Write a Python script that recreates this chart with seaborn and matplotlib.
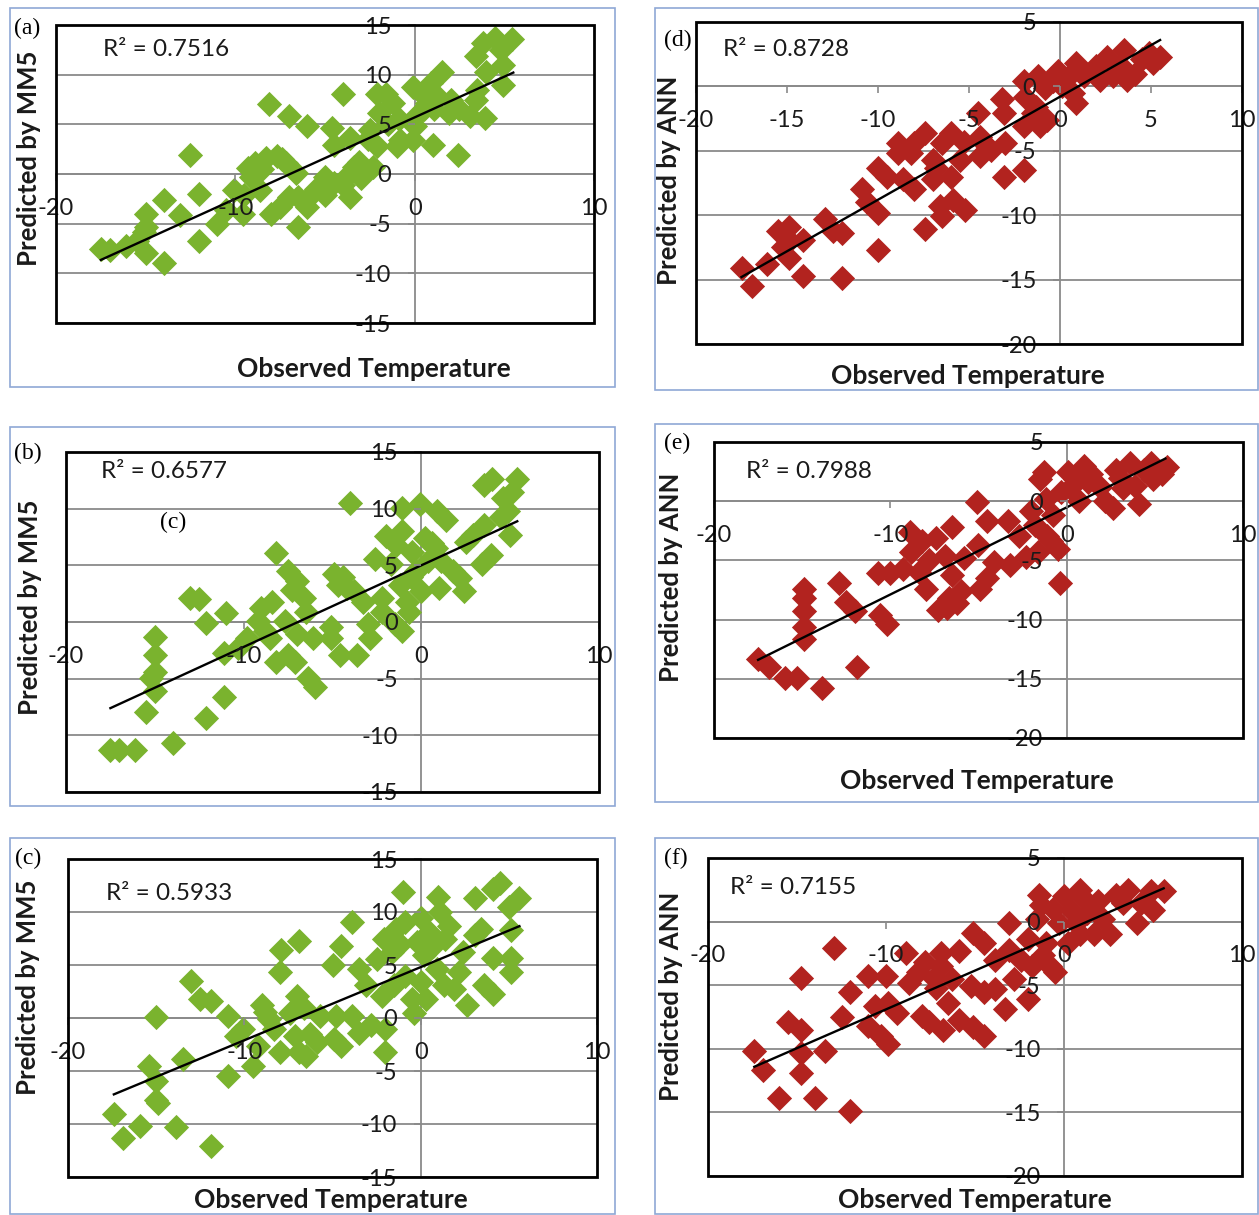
import numpy as np
import pandas as pd
import matplotlib
matplotlib.use("Agg")
import matplotlib.pyplot as plt
import seaborn as sns
from matplotlib.patches import Rectangle

# ---------------- data ----------------
obs_a = [-17.5,-17.0,-16.1,-15.5,-15.1,-15.0,-15.0,-15.0,-14.0,-14.0,
         -13.1,-12.5,-12.0,-12.0,-11.0,-10.5,-10.1,-9.6,-9.5,-9.1,
         -8.9,-8.6,-8.3,-8.1,-8.0,-7.7,-7.5,-7.2,-7.0,-7.0,
         -6.6,-6.5,-6.5,-6.0,-6.0,-6.0,-5.0,-5.0,-4.6,-4.5,
         -4.5,-4.0,-4.0,-3.6,-3.6,-3.4,-3.1,-3.0,-2.5,-2.3,
         -2.1,-2.1,-2.0,-1.6,-1.2,-1.0,-0.9,-0.8,-0.1,-0.1,
         0.0,0.1,0.4,0.7,0.9,1.0,1.1,1.3,1.5,1.9,
         2.0,2.4,2.5,3.1,3.4,3.4,3.5,3.8,3.9,4.0,
         4.5,4.8,4.9,4.9,5.4,-8.5,-7.4,-1.5,0.5,-2.6,
         -9.3,-5.5,-3.8]
pred_a = [-7.6,-7.7,-7.2,-6.7,-5.8,-5.3,-4.0,-8.0,-2.6,-9.0,
          -4.1,1.9,-2.0,-6.7,-5.0,-3.6,-1.6,-4.0,-2.1,-0.3,
          1.1,-1.6,1.6,7.0,-4.0,1.8,-3.3,1.1,5.8,-2.3,
          0.1,-5.3,-2.3,4.8,-3.3,-2.5,-0.3,-2.1,4.6,2.9,
          -0.9,8.1,-1.1,3.6,-2.3,0.7,1.2,-0.4,4.4,0.7,
          2.8,8.1,6.1,8.1,7.1,2.8,5.5,3.4,8.8,3.4,
          4.8,5.8,8.1,7.1,9.2,2.9,6.5,7.8,10.3,6.1,
          7.5,1.9,6.5,5.8,11.9,7.5,8.5,13.2,5.6,10.3,
          13.7,12.5,9.0,11.0,13.6,0.5,1.5,5.0,6.5,3.5,
          0.6,-1.5,-0.2]

obs_b = [-17.5,-17.0,-16.1,-15.5,-15.0,-15.0,-15.0,-15.0,-15.2,-14.0,
         -13.0,-12.5,-12.1,-12.1,-11.1,-11.1,-11.0,-10.3,-9.8,-9.2,
         -9.0,-8.8,-8.5,-8.4,-8.2,-8.2,-7.7,-7.5,-7.5,-7.1,
         -7.0,-7.0,-6.6,-6.5,-6.4,-6.1,-6.0,-5.1,-5.1,-4.9,
         -4.7,-4.6,-4.2,-4.0,-3.8,-3.6,-3.3,-3.0,-2.9,-2.6,
         -2.2,-2.2,-2.0,-1.7,-1.5,-1.2,-1.1,-1.1,-1.1,-0.8,
         -0.7,-0.5,-0.3,-0.1,0.0,0.2,0.4,0.8,0.9,1.0,
         1.1,1.4,1.8,2.2,2.4,2.5,2.9,3.4,3.5,3.5,
         4.0,3.9,4.5,4.6,5.0,5.1,5.4,4.9,-1.4,-0.6,
         0.6,-4.4,-7.3]
pred_b = [-11.3,-11.3,-11.3,-7.9,-1.3,-2.9,-4.4,-6.1,-4.9,-10.7,
          2.1,2.0,-0.1,-8.5,-6.6,-2.7,0.8,-2.3,-1.4,0.1,
          1.2,-0.8,-1.4,1.8,6.1,-3.5,0.1,4.5,-2.9,-3.5,
          3.6,-1.1,2.1,0.9,-4.9,-1.4,-5.7,-0.4,-1.4,4.2,
          3.3,-2.9,3.0,10.5,2.7,-2.9,1.8,-0.2,-1.4,5.6,
          2.1,0.9,7.6,5.1,-0.2,3.3,10.1,8.0,-0.8,1.8,
          0.9,6.2,4.5,10.4,2.7,7.4,5.4,6.5,9.8,3.0,
          5.4,9.0,4.5,3.9,2.7,7.1,7.7,5.1,8.6,12.1,
          12.6,5.9,9.3,10.9,7.7,11.5,12.6,9.8,6.8,4.0,
          7.0,4.0,2.8]

obs_c = [-17.4,-16.9,-15.9,-15.4,-15.0,-15.0,-15.0,-14.9,-13.9,-13.5,
         -13.0,-12.5,-11.9,-11.9,-10.9,-10.9,-10.5,-10.1,-9.5,-9.2,
         -9.0,-8.6,-8.3,-8.0,-8.0,-7.9,-7.4,-7.1,-7.0,-6.9,
         -6.9,-6.6,-6.5,-5.9,-5.7,-5.0,-4.9,-4.8,-4.5,-4.5,
         -3.9,-3.9,-3.5,-3.5,-3.1,-2.8,-2.5,-2.2,-2.1,-2.0,
         -2.0,-1.6,-1.5,-1.4,-1.0,-0.9,-0.9,-0.5,-0.4,-0.2,
         0.0,0.0,0.2,0.3,0.5,0.9,1.0,1.1,1.3,1.4,
         1.6,1.9,2.2,2.4,2.6,3.1,3.1,3.4,3.6,4.1,
         4.1,4.1,4.5,5.0,5.1,5.1,5.1,5.6,-1.2,0.7,
         -6.3,-8.8]
pred_c = [-9.1,-11.3,-10.2,-4.5,0.1,-5.9,-7.7,-8.0,-10.3,-3.9,
          3.5,1.8,1.6,-12.1,0.2,-5.5,-1.7,-1.0,-4.5,-2.6,
          1.2,-0.1,-1.0,-3.2,4.3,6.4,0.5,-1.7,2.1,7.3,
          -3.2,0.9,-3.6,-2.3,0.2,5.0,-2.0,0.2,6.8,-2.6,
          9.1,0.2,4.6,-1.4,3.1,-0.7,5.6,2.1,7.5,-1.0,
          -3.2,6.2,3.1,8.4,11.9,9.1,4.0,1.8,0.5,7.2,
          9.4,3.4,5.9,1.8,8.1,4.6,11.4,10.0,3.1,7.5,
          8.7,2.7,4.3,6.2,1.2,11.3,7.8,8.4,3.1,12.2,
          2.3,5.7,12.7,10.5,5.7,4.3,8.3,11.3,7.0,6.8,
          -1.5,0.6]

obs_d = [-17.5,-16.9,-16.1,-15.5,-14.9,-14.9,-14.9,-15.2,-14.1,-14.1,
         -12.9,-12.5,-12.0,-12.0,-10.9,-10.6,-10.0,-10.0,-10.0,-9.5,
         -8.9,-8.9,-8.6,-8.2,-8.0,-8.0,-7.4,-7.4,-7.0,-7.0,
         -6.6,-6.5,-6.5,-6.0,-6.0,-5.9,-5.5,-5.3,-5.2,-4.5,
         -4.4,-4.4,-3.8,-3.2,-3.1,-3.1,-3.0,-2.0,-2.0,-2.0,
         -1.9,-1.5,-1.2,-1.1,-0.8,-0.7,-0.4,-0.1,0.1,0.5,
         0.7,0.9,0.9,1.3,2.0,2.2,2.6,2.9,3.3,3.5,
         3.7,4.1,4.9,5.1,5.5,4.5,-6.8,-4.0,-1.3,-0.2]
pred_d = [-14.1,-15.5,-13.8,-11.2,-10.9,-11.9,-13.3,-12.5,-11.9,-14.7,
          -10.3,-11.2,-11.4,-14.9,-8.0,-9.0,-6.3,-9.8,-12.7,-7.0,
          -4.4,-5.2,-7.2,-5.2,-4.4,-8.0,-3.6,-11.1,-5.7,-7.2,
          -9.3,-4.4,-10.1,-3.6,-7.0,-8.8,-5.7,-4.3,-9.6,-2.1,
          -3.9,-5.4,-4.9,-1.0,-2.1,-7.0,-4.4,0.4,-3.1,-6.5,
          -0.8,-2.1,0.8,-3.1,-0.1,-2.6,0.4,1.2,0.0,0.8,
          -0.5,1.8,-1.3,0.8,1.6,0.5,2.3,0.8,1.7,2.8,
          0.5,1.0,2.6,1.8,2.3,2.1,-6.3,-4.6,-1.6,1.0]

obs_e = [-17.5,-16.9,-16.0,-15.3,-14.9,-14.9,-14.9,-14.9,-14.9,-13.9,
         -12.9,-12.5,-12.0,-11.9,-10.7,-10.6,-10.2,-10.0,-9.3,-8.9,
         -8.8,-8.4,-8.2,-8.0,-7.4,-7.3,-6.9,-6.7,-6.5,-6.5,
         -6.0,-5.8,-5.1,-5.0,-4.9,-4.5,-4.5,-4.1,-3.3,-3.2,
         -2.7,-2.0,-1.6,-1.5,-1.3,-1.2,-1.1,-0.8,-0.5,-0.4,
         -0.3,0.1,0.2,0.7,1.0,1.2,1.4,1.9,2.2,2.6,
         2.8,3.2,3.6,3.9,4.1,4.4,4.8,4.9,5.7,5.4,
         -6.8,-6.2,-7.8,-2.3,-0.9,-1.8,0.5,3.0]
pred_e = [-13.3,-14.0,-14.9,-14.9,-7.4,-8.2,-9.3,-10.6,-11.6,-15.8,
          -6.9,-8.5,-9.3,-14.0,-6.1,-9.6,-10.4,-6.1,-5.7,-2.6,
          -4.3,-6.0,-3.4,-7.4,-3.1,-9.2,-4.6,-8.2,-2.2,-6.2,
          -7.6,-4.8,-0.1,-3.7,-7.4,-1.7,-6.5,-5.1,-1.7,-5.4,
          -2.9,-0.8,-4.3,1.9,2.5,0.2,-2.9,-1.2,-4.0,-6.9,
          0.8,2.5,1.1,0.0,3.0,1.6,2.3,1.2,0.0,-0.6,
          2.6,1.1,3.2,1.3,-0.2,2.6,3.2,1.9,2.9,2.3,
          -9.0,-8.6,-5.0,-4.7,-3.4,-2.0,1.9,2.0]

obs_f = [-17.4,-16.9,-16.0,-15.5,-14.8,-14.8,-14.8,-14.8,-14.0,-13.4,
         -12.9,-12.5,-12.0,-12.0,-11.0,-11.0,-10.6,-10.3,-10.0,-9.9,
         -9.9,-9.4,-8.9,-8.7,-8.2,-8.0,-7.8,-7.6,-7.2,-6.9,
         -6.9,-6.8,-6.5,-6.3,-5.9,-5.9,-5.2,-5.1,-5.1,-4.5,
         -4.5,-4.5,-3.9,-3.9,-3.3,-3.1,-3.1,-2.8,-2.0,-2.0,
         -1.8,-1.5,-1.4,-1.3,-1.0,-0.8,-0.5,-0.3,0.0,0.2,
         0.4,0.7,0.9,0.9,1.3,1.7,1.9,2.2,2.6,2.9,
         3.3,3.6,4.1,4.3,4.9,5.0,5.6,-1.2,-0.6,-7.3,
         -2.4,1.1]
pred_f = [-10.2,-11.7,-13.9,-7.9,-8.5,-10.3,-11.9,-4.4,-13.9,-10.2,
          -2.1,-7.5,-5.5,-14.9,-4.3,-8.2,-6.6,-9.0,-4.3,-9.6,
          -6.4,-7.2,-2.5,-4.8,-4.0,-7.4,-3.2,-7.9,-5.2,-2.5,
          -3.5,-8.5,-6.4,-4.5,-2.3,-7.7,-5.1,-0.9,-8.3,-1.7,
          -5.5,-9.0,-3.0,-5.3,-6.9,-0.1,-2.2,-4.5,-6.1,-1.4,
          -3.5,0.2,2.1,1.3,-1.7,-3.5,-4.0,-0.1,2.0,-1.7,
          0.9,-0.1,2.5,-1.0,0.7,-1.0,1.6,0.2,-1.0,2.1,
          1.5,2.5,-0.1,1.5,2.4,0.9,2.4,-2.6,1.0,-4.4,
          -3.0,1.8]

# trendline: slope, intercept and x-range
trend_a = [0.82, 5.7];   trend_x_a = [-17.5, 5.5]
trend_b = [0.72, 5.0];   trend_x_b = [-17.5, 5.4]
trend_c = [0.69, 4.8];   trend_x_c = [-17.4, 5.6]
trend_d = [0.80, -0.8];  trend_x_d = [-17.5, 5.5]
trend_e = [0.736, -0.52]; trend_x_e = [-17.5, 5.6]
trend_f = [0.61, -0.8];  trend_x_f = [-17.4, 5.6]

r2_labels = {"a": "R² = 0.7516", "b": "R² = 0.6577", "c": "R² = 0.5933",
             "d": "R² = 0.8728", "e": "R² = 0.7988", "f": "R² = 0.7155"}
panel_tags = {"a": "(a)", "b": "(b)", "c": "(c)", "d": "(d)", "e": "(e)", "f": "(f)"}
ylabel_mm5 = "Predicted by MM5"
ylabel_ann = "Predicted by ANN"
xlabel_txt = "Observed Temperature"

mm5_yticks = [-15, -10, -5, 0, 5, 10, 15]
ann_yticks = [-20, -15, -10, -5, 0, 5]
xticks_10 = [-20, -10, 0, 10]
xticks_5 = [-20, -15, -10, -5, 0, 5, 10]

# ---------------- style / layout ----------------
W, H = 1259, 1215
plt.rcParams['font.family'] = ['Lato', 'DejaVu Sans']
GREEN = '#7AB32E'
RED = '#B2231F'
GRID = '#8A8A8A'
BOX = '#8FA8D6'
TXT = '#1A1A1A'

fig = plt.figure(figsize=(W / 100, H / 100), dpi=100)


def fx(x):
    return x / W


def fy(y):
    return 1 - y / H


def frame_rect(x0, y0, x1, y1):
    return [x0 / W, 1 - y1 / H, (x1 - x0) / W, (y1 - y0) / H]


# outer blue boxes
for (x0, y0, x1, y1) in [(10, 8, 615, 387), (655, 8, 1258, 390),
                         (10, 427, 615, 806), (655, 424, 1258, 802),
                         (10, 838, 615, 1214), (655, 838, 1258, 1214)]:
    fig.add_artist(Rectangle((fx(x0), fy(y1)), (x1 - x0) / W, (y1 - y0) / H,
                             transform=fig.transFigure, fill=False,
                             ec=BOX, lw=1.2))

panels = [
    dict(k="a", obs=obs_a, pred=pred_a, tr=trend_a, trx=trend_x_a, col=GREEN,
         frame=(56, 25, 594, 323), ylim=(-15, 15), yt=mm5_yticks, xt=xticks_10,
         tag=(27, 28), ylab=(ylabel_mm5, 29, 158), xlab=(374, 369), r2=(103, 50)),
    dict(k="d", obs=obs_d, pred=pred_d, tr=trend_d, trx=trend_x_d, col=RED,
         frame=(696, 22, 1242, 344), ylim=(-20, 5), yt=ann_yticks, xt=xticks_5,
         tag=(678, 40), ylab=(ylabel_ann, 669, 180), xlab=(968, 376), r2=(723, 50)),
    dict(k="b", obs=obs_b, pred=pred_b, tr=trend_b, trx=trend_x_b, col=GREEN,
         frame=(66, 452, 599, 792), ylim=(-15, 15), yt=mm5_yticks, xt=xticks_10,
         tag=(28, 453), ylab=(ylabel_mm5, 30, 607), xlab=None, r2=(101, 472)),
    dict(k="e", obs=obs_e, pred=pred_e, tr=trend_e, trx=trend_x_e, col=RED,
         frame=(714, 442, 1243, 738), ylim=(-20, 5), yt=ann_yticks, xt=xticks_10,
         tag=(677, 443), ylab=(ylabel_ann, 671, 577), xlab=(977, 781), r2=(746, 471)),
    dict(k="c", obs=obs_c, pred=pred_c, tr=trend_c, trx=trend_x_c, col=GREEN,
         frame=(68, 859, 597, 1177), ylim=(-15, 15), yt=mm5_yticks, xt=xticks_10,
         tag=(28, 858), ylab=(ylabel_mm5, 28, 987), xlab=(331, 1200), r2=(106, 894)),
    dict(k="f", obs=obs_f, pred=pred_f, tr=trend_f, trx=trend_x_f, col=RED,
         frame=(708, 858, 1242, 1176), ylim=(-20, 5), yt=ann_yticks, xt=xticks_10,
         tag=(676, 858), ylab=(ylabel_ann, 671, 996), xlab=(975, 1200), r2=(730, 888)),
]

for p in panels:
    ax = fig.add_axes(frame_rect(*p["frame"]))
    ax.set_facecolor('white')
    df = pd.DataFrame({"obs": p["obs"], "pred": p["pred"]})
    sns.scatterplot(data=df, x="obs", y="pred", ax=ax, marker='D', s=165,
                    color=p["col"], linewidth=0, zorder=1, legend=False)
    tx = np.array(p["trx"])
    tdf = pd.DataFrame({"x": tx, "y": p["tr"][0] * tx + p["tr"][1]})
    sns.lineplot(data=tdf, x="x", y="y", ax=ax, color='black', lw=1.7,
                 estimator=None, zorder=2)
    ax.set_xlim(-20, 10)
    ax.set_ylim(*p["ylim"])
    ax.set_xlabel("")
    ax.set_ylabel("")
    # gridlines
    for yv in p["yt"]:
        ax.axhline(yv, color=GRID, lw=1.3, zorder=0.6)
    # axes crossing at zero (Excel style)
    for s in ["top", "right"]:
        ax.spines[s].set_visible(False)
    ax.spines["left"].set_position(("data", 0))
    ax.spines["bottom"].set_position(("data", 0))
    for s in ["left", "bottom"]:
        ax.spines[s].set_color(GRID)
        ax.spines[s].set_linewidth(1.3)
        ax.spines[s].set_zorder(0.7)
    ax.set_axisbelow(False)
    ax.set_xticks(p["xt"])
    ax.set_xticklabels([str(t) for t in p["xt"]])
    ax.set_yticks(p["yt"])
    ax.set_yticklabels([str(t) for t in p["yt"]])
    ax.tick_params(axis='x', direction='out', length=5, width=1.2, color=GRID,
                   labelsize=17, labelcolor=TXT, pad=12)
    ax.tick_params(axis='y', direction='out', length=5, width=1.2, color=GRID,
                   labelsize=17, labelcolor=TXT, pad=12)
    # black frame
    ax.add_patch(Rectangle((0, 0), 1, 1, transform=ax.transAxes, fill=False,
                           ec='black', lw=2.0, zorder=3, clip_on=False))
    # texts
    fig.text(fx(p["r2"][0]), fy(p["r2"][1]), r2_labels[p["k"]], fontsize=17.5,
             color=TXT, ha='left', va='center')
    fig.text(fx(p["tag"][0]), fy(p["tag"][1]), panel_tags[p["k"]], fontsize=17,
             family=['Liberation Serif', 'DejaVu Serif'], color='black',
             ha='center', va='center')
    lab, lx, ly = p["ylab"]
    fig.text(fx(lx), fy(ly), lab, fontsize=18.5, fontweight='bold', rotation=90,
             color=TXT, ha='center', va='center')
    if p["xlab"] is not None:
        fig.text(fx(p["xlab"][0]), fy(p["xlab"][1]), xlabel_txt, fontsize=19,
                 fontweight='bold', color=TXT, ha='center', va='center')

# stray panel tag inside panel (b)
fig.text(fx(173), fy(522), "(c)", fontsize=17,
         family=['Liberation Serif', 'DejaVu Serif'], color='black',
         ha='center', va='center')

fig.savefig("out.png", dpi=100)
